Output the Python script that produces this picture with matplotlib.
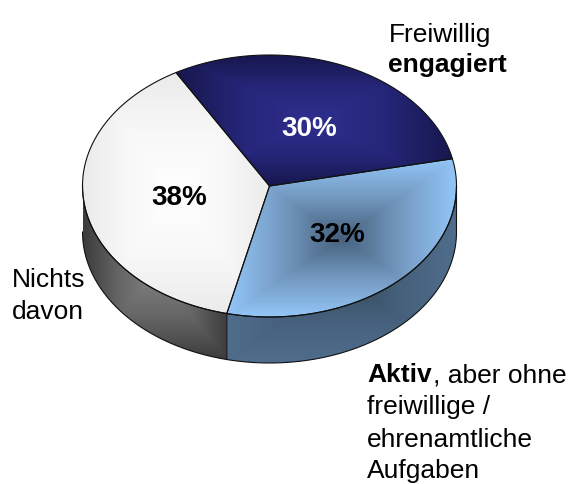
import matplotlib
matplotlib.use("Agg")
import matplotlib.pyplot as plt
from matplotlib.colors import LinearSegmentedColormap
import numpy as np

plt.rcParams["font.family"] = ["Liberation Sans", "DejaVu Sans"]

# data
values = [30, 32, 38]
pct_labels = ["30%", "32%", "38%"]
top_stops = [
    ["#2f2f90", "#26267a", "#17174f"],
    ["#45607c", "#7398bf", "#93c6f8"],
    ["#ffffff", "#f8f8f8", "#ebebeb"],
]

W, H = 572, 484
fig = plt.figure(figsize=(W / 100, H / 100), dpi=100)
ax = fig.add_axes([0, 0, 1, 1])
ax.axis("off")

cx, cy = 269.5, 186
rx, ry = 187, 131
depth = 46
start = 120
line = "#111111"

# angles of the slices, clockwise from start
angles = start - np.cumsum([0] + values) * 3.6


def ell(a):
    a = np.radians(a)
    return cx + rx * np.cos(a), cy - ry * np.sin(a)


def box_grad(x, y, stops, z=2):
    # rectangular gradient over the bounding box of the shape, clipped to it
    x0, x1, y0, y1 = x.min(), x.max(), y.min(), y.max()
    yy, xx = np.mgrid[y0:y1:200j, x0:x1:200j]
    d = np.maximum(np.abs(xx - (x0 + x1) / 2) / ((x1 - x0) / 2), np.abs(yy - (y0 + y1) / 2) / ((y1 - y0) / 2))
    cmap = LinearSegmentedColormap.from_list("g", stops)
    p = ax.fill(x, y, color="none", zorder=z)[0]
    im = ax.imshow(cmap(d), extent=(x0, x1, y1, y0), aspect="auto", zorder=z, interpolation="bilinear")
    im.set_clip_path(p)
    return im


def side_poly(a0, a1):
    t = np.linspace(a0, a1, 100)
    x, y = ell(t)
    return np.r_[x, x[::-1]], np.r_[y, (y + depth)[::-1]]


# side walls
x, y = side_poly(-180, angles[2])
box_grad(x, y, ["#808080", "#666666", "#3c3c3c"], z=1)
ax.plot(x, y, color=line, lw=0.8, zorder=4)

x, y = side_poly(angles[2], 0)
box_grad(x, y, ["#33465a", "#46607c", "#4f6d8c"], z=1)
ax.plot(x, y, color=line, lw=0.8, zorder=4)

# top slices
for i in range(3):
    t = np.linspace(angles[i], angles[i + 1], 120)
    x, y = ell(t)
    x, y = np.r_[cx, x, cx], np.r_[cy, y, cy]
    box_grad(x, y, top_stops[i], z=2)
    ax.plot(x, y, color=line, lw=0.8, zorder=4)

ax.set_xlim(0, W)
ax.set_ylim(H, 0)

# percent labels
pct_pos = [(309, 129), (337, 235), (179, 198)]
pct_col = ["white", "black", "black"]
for (px, py), s, c in zip(pct_pos, pct_labels, pct_col):
    ax.text(px, py, s, color=c, fontsize=20, fontweight="bold", ha="center", va="center", zorder=5)

# outside labels
fs = 19
ax.text(389, 42, "Freiwillig", fontsize=fs)
ax.text(388, 72, "engagiert", fontsize=fs, fontweight="bold")
ax.text(12, 287, "Nichts", fontsize=fs)
ax.text(12, 319, "davon", fontsize=fs)
t1 = ax.text(367, 382, "Aktiv", fontsize=fs, fontweight="bold")
bb = t1.get_window_extent(fig.canvas.get_renderer())
ax.text(367 + bb.width + 1, 382, ", aber ohne", fontsize=fs)
ax.text(367, 414, "freiwillige /", fontsize=fs)
ax.text(367, 447, "ehrenamtliche", fontsize=fs)
ax.text(367, 478, "Aufgaben", fontsize=fs)

fig.savefig("out.png", dpi=100, facecolor="white")
